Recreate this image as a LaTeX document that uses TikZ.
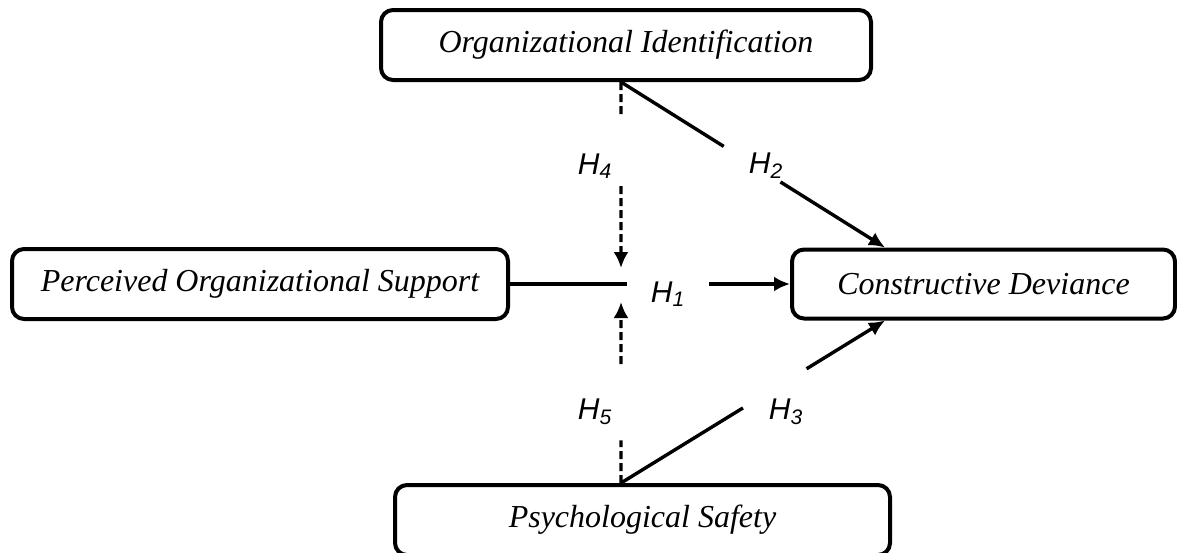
\documentclass[tikz,border=0pt]{standalone}
\usepackage{fontspec}
\setmainfont{Liberation Serif}
\newfontfamily\hypfont{Liberation Sans}
\usetikzlibrary{
positioning,
arrows.meta,
calc
}
\tikzset{
box/.style={
draw,
line width=2pt,
rounded corners=6pt,
align=center,
inner sep=0pt,
font=\fontsize{16}{19}\selectfont\itshape
},
link/.style={
line width=1.7pt
},
arrow/.style={
link,
-{Latex[length=8pt,width=7.5pt]}
},
modlink/.style={
link,
dash pattern=on 4pt off 2pt
},
modarrow/.style={
modlink,
-{Latex[length=8pt,width=7.5pt]}
},
hyp/.style={
inner sep=0pt,
font=\fontsize{15}{17}\selectfont\hypfont\itshape
}
}

\begin{document}
\begin{tikzpicture}[x=0.5pt, y=-0.5pt]
\useasboundingbox (0,0) rectangle (1177,552);

\node[box, minimum width=245pt, minimum height=35pt] (oi) at (626,45) {Organizational Identification};
\node[box, minimum width=248pt, minimum height=35pt] (pos) at (260,284) {Perceived Organizational Support};
\node[box, minimum width=191.5pt, minimum height=34.5pt] (cd) at (983.5,284) {Constructive Deviance};
\node[box, minimum width=247.5pt, minimum height=35pt] (ps) at (642.5,520) {Psychological Safety};

\node[hyp] (h1) at (668,294) {H\textsubscript{1}};
\node[hyp] (h2) at (766,166) {H\textsubscript{2}};
\node[hyp] (h3) at (786,412) {H\textsubscript{3}};
\node[hyp] (h4) at (595,166) {H\textsubscript{4}};
\node[hyp] (h5) at (595,412) {H\textsubscript{5}};

\coordinate (j) at (621,284);
\coordinate (oiA) at (oi.south -| j);
\coordinate (psA) at (ps.north -| j);
\coordinate (cdT) at ($(cd.north west)+(95,0)$);
\coordinate (cdB) at ($(cd.south west)+(95,0)$);

\draw[link] (pos.east) -- ($(pos.east)!0.419!(cd.west)$);
\draw[arrow] ($(pos.east)!0.711!(cd.west)$) -- (cd.west);

\draw[link] (oiA) -- ($(oiA)!0.389!(cdT)$);
\draw[arrow] ($(oiA)!0.604!(cdT)$) -- (cdT);
\draw[link] (psA) -- ($(psA)!0.462!(cdB)$);
\draw[arrow] ($(psA)!0.703!(cdB)$) -- (cdB);

\draw[modlink] (oiA) -- ($(oiA)!0.17!(j)$);
\draw[modarrow, shorten >=8pt] ($(oiA)!0.515!(j)$) -- (j);
\draw[modlink] (psA) -- ($(psA)!0.214!(j)$);
\draw[modarrow, shorten >=9pt] ($(psA)!0.597!(j)$) -- (j);
\end{tikzpicture}
\end{document}
